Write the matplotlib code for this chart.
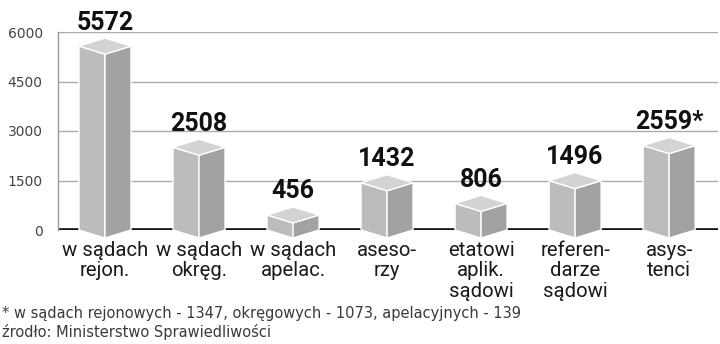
import matplotlib.pyplot as plt
from matplotlib.patches import Polygon

categories = ['w sądach\nrejon.', 'w sądach\nokręg.', 'w sądach\napelac.', 'aseso-\nrzy',
              'etatowi\naplik.\nsądowi', 'referen-\ndarze\nsądowi', 'asys-\ntenci']
values = [5572, 2508, 456, 1432, 806, 1496, 2559]
notes = ['', '', '', '', '', '', '*']
yticks = [0, 1500, 3000, 4500, 6000]
footnote = '* w sądach rejonowych - 1347, okręgowych - 1073, apelacyjnych - 139'
source = 'źrodło: Ministerstwo Sprawiedliwości'

c_left = '#bcbcbc'
c_right = '#a2a2a2'
c_top = '#d3d3d3'

fig = plt.figure(figsize=(7.2, 3.44), dpi=100)
ax = fig.add_axes([58/720, 114/344, 660/720, 198/344])
ax.set_xlim(-0.5, 6.52)
ax.set_ylim(0, 6000)

# px -> data helpers
ppx = 7.02 / 660   # data units per pixel in x
ppy = 6000 / 198   # data units per pixel in y
hw = 26 * ppx
hh = 8 * ppy

for y in yticks[1:]:
    ax.axhline(y, color='#ababab', lw=1, zorder=1)
ax.axhline(0, color='#111111', lw=2.6, zorder=1)

for i, v in enumerate(values):
    left = [(i - hw, 0), (i, -hh), (i, v - hh), (i - hw, v)]
    right = [(i, -hh), (i + hw, 0), (i + hw, v), (i, v - hh)]
    top = [(i - hw, v), (i, v + hh), (i + hw, v), (i, v - hh)]
    for pts, col in ((left, c_left), (right, c_right), (top, c_top)):
        ax.add_patch(Polygon(pts, closed=True, facecolor=col, edgecolor='white',
                             lw=1, zorder=3, clip_on=False))
    ax.text(i, v + hh + 8.5 * ppy, f'{v}{notes[i]}', ha='center', va='baseline',
            fontsize=18, fontweight='bold', family='Roboto', color='#111111')
    ax.annotate(categories[i], xy=(i, 0), xytext=(0, -8), textcoords='offset points',
                ha='center', va='top', fontsize=14.6, family='Roboto', color='#1a1a1a',
                linespacing=1.08, annotation_clip=False)

for s in ['top', 'right', 'bottom']:
    ax.spines[s].set_visible(False)
ax.spines['left'].set_color('#999999')
ax.spines['left'].set_linewidth(1)
ax.set_xticks([])
ax.set_yticks(yticks)
ax.set_yticklabels([str(t) for t in yticks], fontsize=10, family='DejaVu Sans',
                   color='#444444')
ax.tick_params(axis='y', length=0, pad=11)

fig.text(2/720, 1 - 318/344, footnote, fontsize=10.5, family='DejaVu Sans',
         color='#3a3a3a', va='baseline')
fig.text(2/720, 1 - 337/344, source, fontsize=10.5, family='DejaVu Sans',
         color='#3a3a3a', va='baseline')

fig.savefig('out.png', dpi=100)
